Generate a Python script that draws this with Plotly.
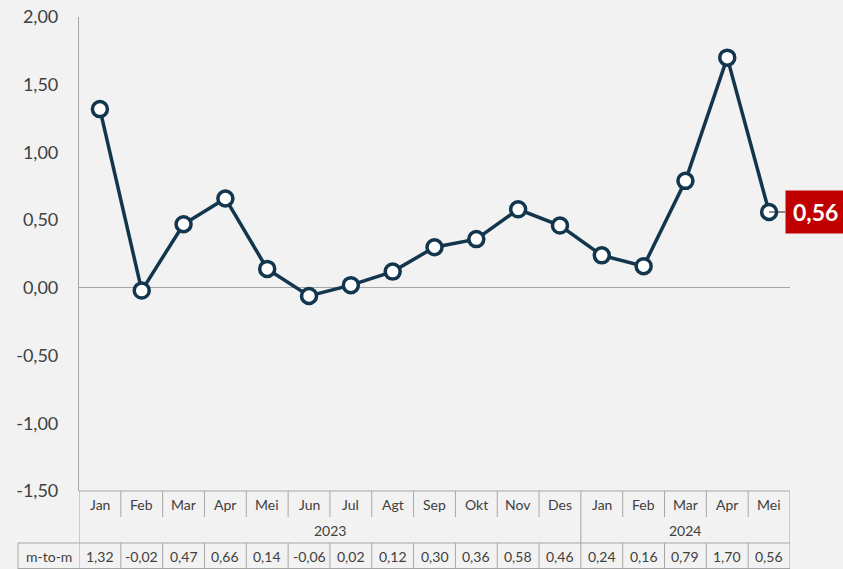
import plotly.graph_objects as go

months = ["Jan", "Feb", "Mar", "Apr", "Mei", "Jun", "Jul", "Agt", "Sep", "Okt", "Nov", "Des",
          "Jan", "Feb", "Mar", "Apr", "Mei"]
years = ["2023", "2024"]
year_counts = [12, 5]
values = [1.32, -0.02, 0.47, 0.66, 0.14, -0.06, 0.02, 0.12, 0.30, 0.36, 0.58, 0.46,
          0.24, 0.16, 0.79, 1.70, 0.56]
row_label = "m-to-m"
y_ticks = [-1.5, -1.0, -0.5, 0.0, 0.5, 1.0, 1.5, 2.0]

W, H = 843, 569
BG = "#f2f2f2"
GRID = "#a6a6a6"
LINE = "#12364d"
FONT = "Lato"
TXT = "#404040"

n = len(values)
xs = list(range(n))

def fmt(v):
    return f"{v:.2f}".replace(".", ",")

def py(p):
    return (H - p) / H

fig = go.Figure()
fig.add_trace(go.Scatter(
    x=xs, y=values, mode="lines+markers",
    line=dict(color=LINE, width=3.5),
    marker=dict(size=15, color="white", line=dict(color=LINE, width=3.5)),
    hoverinfo="skip", showlegend=False, cliponaxis=False,
))

shapes = []
ann = []

top, mid_m, mid_y, bot = 491, 517, 543, 569
L = dict(color=GRID, width=1)
shapes.append(dict(type="line", xref="x", yref="paper", x0=-0.5, x1=n - 0.5,
                   y0=py(top), y1=py(top), line=L))
shapes.append(dict(type="line", xref="paper", yref="paper", x0=18 / W, x1=790 / W,
                   y0=py(mid_y), y1=py(mid_y), line=L))
shapes.append(dict(type="line", xref="paper", yref="paper", x0=18 / W, x1=790 / W,
                   y0=py(bot - 0.5), y1=py(bot - 0.5), line=L))
for xv in [-0.5, n - 0.5]:
    shapes.append(dict(type="line", xref="x", yref="paper", x0=xv, x1=xv,
                       y0=py(top), y1=py(bot), line=L))
shapes.append(dict(type="line", xref="paper", yref="paper", x0=18 / W, x1=18 / W,
                   y0=py(mid_y), y1=py(bot), line=L))
bounds = []
acc = 0
for c in year_counts[:-1]:
    acc += c
    bounds.append(acc - 0.5)
for i in range(n - 1):
    xv = i + 0.5
    if xv in bounds:
        shapes.append(dict(type="line", xref="x", yref="paper", x0=xv, x1=xv,
                           y0=py(top), y1=py(bot), line=L))
    else:
        shapes.append(dict(type="line", xref="x", yref="paper", x0=xv, x1=xv,
                           y0=py(top), y1=py(mid_m), line=L))
        shapes.append(dict(type="line", xref="x", yref="paper", x0=xv, x1=xv,
                           y0=py(mid_y), y1=py(bot), line=L))

tf = dict(family=FONT, size=14, color=TXT)
for i, m in enumerate(months):
    ann.append(dict(x=i, y=py((top + mid_m) / 2), xref="x", yref="paper", text=m,
                    showarrow=False, font=tf, xanchor="center", yanchor="middle"))
    ann.append(dict(x=i, y=py((mid_y + bot) / 2), xref="x", yref="paper",
                    text=fmt(values[i]),
                    showarrow=False, font=tf, xanchor="center", yanchor="middle"))
start = 0
for yname, c in zip(years, year_counts):
    ann.append(dict(x=start + (c - 1) / 2, y=py((mid_m + mid_y) / 2), xref="x", yref="paper",
                    text=yname, showarrow=False, font=tf, xanchor="center", yanchor="middle"))
    start += c
ann.append(dict(x=48.5 / W, y=py((mid_y + bot) / 2), xref="paper", yref="paper",
                text=row_label, showarrow=False, font=tf, xanchor="center", yanchor="middle"))

ann.append(dict(x=n - 1, y=values[-1], xref="x", yref="y",
                text="<b>" + fmt(values[-1]) + "</b>",
                showarrow=True, arrowhead=0, arrowwidth=1.2, arrowcolor="#222222",
                ax=16, ay=0, xanchor="left", yanchor="middle",
                bgcolor="#c00000", borderpad=7,
                font=dict(family=FONT, size=23, color="white")))

fig.update_layout(
    width=W, height=H, autosize=False,
    margin=dict(l=0, r=0, t=0, b=0, autoexpand=False),
    paper_bgcolor=BG, plot_bgcolor=BG,
    shapes=shapes, annotations=ann,
    xaxis=dict(domain=[79 / W, 790 / W], range=[-0.5, n - 0.5], automargin=False,
               showgrid=False, zeroline=False, showticklabels=False, showline=False,
               fixedrange=True),
    yaxis=dict(domain=[py(491), py(17)], range=[-1.5, 2.0],
               tickmode="array", tickvals=y_ticks, ticktext=[fmt(v) for v in y_ticks],
               showgrid=False, automargin=False,
               zeroline=True, zerolinecolor=GRID, zerolinewidth=1.2,
               showline=True, linecolor=GRID, linewidth=1.2,
               ticks="", ticklabelstandoff=16,
               tickfont=dict(family=FONT, size=18, color=TXT), fixedrange=True),
)

fig.write_html("out.html", config={"displayModeBar": False},
               post_script="document.body.style.margin='0px';")
